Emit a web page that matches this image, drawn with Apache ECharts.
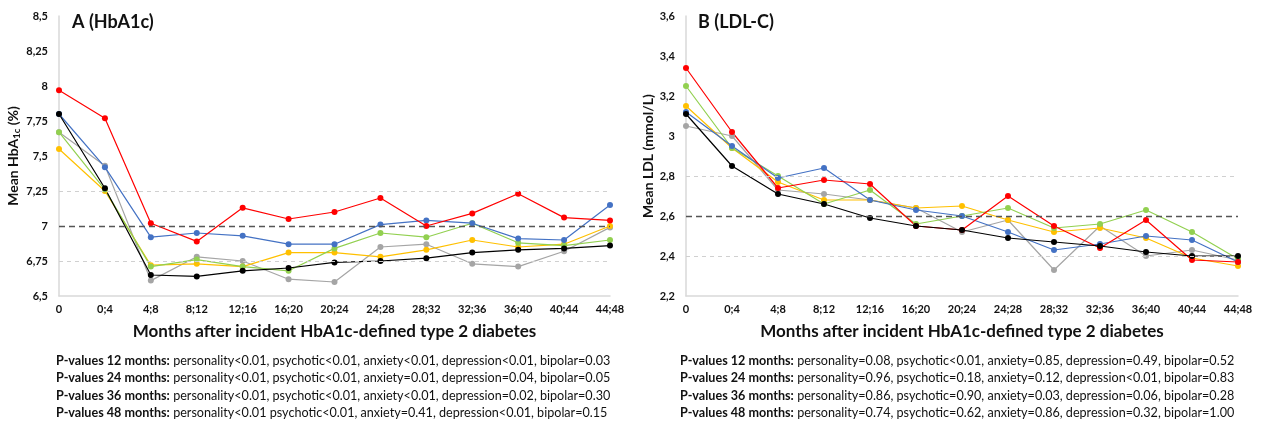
<!DOCTYPE html>
<html>
<head>
<meta charset="utf-8">
<script src="https://cdn.jsdelivr.net/npm/echarts@6/dist/echarts.min.js"></script>
<style>
  html, body { margin: 0; padding: 0; background: #fff; }
  #chart { width: 1262px; height: 424px; }
</style>
</head>
<body>
<div id="chart"></div>
<script>
// categories (months after incident diabetes)
const months = ['0', '0;4', '4;8', '8;12', '12;16', '16;20', '20;24', '24;28', '28;32', '32;36', '36;40', '40;44', '44;48'];

// A: mean HbA1c (%)
const redA    = [7.97, 7.77, 7.02, 6.89, 7.13, 7.05, 7.10, 7.20, 7.00, 7.09, 7.23, 7.06, 7.04];
const blueA   = [7.80, 7.42, 6.92, 6.95, 6.93, 6.87, 6.87, 7.01, 7.04, 7.02, 6.91, 6.90, 7.15];
const greenA  = [7.67, 7.26, 6.71, 6.76, 6.71, 6.68, 6.84, 6.95, 6.92, 7.02, 6.88, 6.86, 6.90];
const grayA   = [7.67, 7.43, 6.61, 6.78, 6.75, 6.62, 6.60, 6.85, 6.87, 6.73, 6.71, 6.82, 6.99];
const yellowA = [7.55, 7.25, 6.72, 6.73, 6.71, 6.81, 6.81, 6.78, 6.83, 6.90, 6.85, 6.87, 7.00];
const blackA  = [7.80, 7.27, 6.65, 6.64, 6.68, 6.70, 6.74, 6.75, 6.77, 6.81, 6.83, 6.84, 6.86];

// B: mean LDL (mmol/L)
const redB    = [3.34, 3.02, 2.74, 2.78, 2.76, 2.55, 2.53, 2.70, 2.55, 2.44, 2.58, 2.38, 2.37];
const blueB   = [3.12, 2.95, 2.79, 2.84, 2.68, 2.63, 2.60, 2.52, 2.43, 2.46, 2.50, 2.48, 2.37];
const greenB  = [3.25, 2.94, 2.80, 2.66, 2.73, 2.56, 2.60, 2.64, 2.54, 2.56, 2.63, 2.52, 2.385];
const grayB   = [3.05, 3.00, 2.73, 2.71, 2.68, 2.64, 2.52, 2.58, 2.33, 2.55, 2.40, 2.43, 2.38];
const yellowB = [3.15, 2.94, 2.77, 2.68, 2.68, 2.64, 2.65, 2.58, 2.52, 2.54, 2.49, 2.39, 2.35];
const blackB  = [3.11, 2.85, 2.71, 2.66, 2.59, 2.55, 2.53, 2.49, 2.47, 2.45, 2.42, 2.40, 2.40];

// reference lines
const refA = [6.75, 7, 7.25];
const refB = [2.4, 2.6, 2.8];

// p-value notes
const pLabels = ['P-values 12 months:', 'P-values 24 months:', 'P-values 36 months:', 'P-values 48 months:'];
const pTextA = [
    'personality<0.01, psychotic<0.01, anxiety<0.01, depression<0.01, bipolar=0.03',
    'personality<0.01, psychotic<0.01, anxiety=0.01, depression=0.04, bipolar=0.05',
    'personality<0.01, psychotic<0.01, anxiety<0.01, depression=0.02, bipolar=0.30',
    'personality<0.01 psychotic<0.01, anxiety=0.41, depression<0.01, bipolar=0.15'
];
const pTextB = [
    'personality=0.08, psychotic<0.01, anxiety=0.85, depression=0.49, bipolar=0.52',
    'personality=0.96, psychotic=0.18, anxiety=0.12, depression<0.01, bipolar=0.83',
    'personality=0.86, psychotic=0.90, anxiety=0.03, depression=0.06, bipolar=0.28',
    'personality=0.74, psychotic=0.62, anxiety=0.86, depression=0.32, bipolar=1.00'
];

const FONT = 'Lato, "Open Sans", sans-serif';
const chart = echarts.init(document.getElementById('chart'));

function commaFmt(v) {
    return String(Math.round(v * 100) / 100).replace('.', ',');
}

function makeX(idx) {
    return {
        type: 'category', gridIndex: idx, data: months, boundaryGap: false,
        axisLine: { lineStyle: { color: '#d9d9d9', width: 1.5 } },
        axisTick: { show: false },
        axisLabel: { color: '#111', fontFamily: FONT, fontWeight: 'bold', fontSize: 11, margin: 8, interval: 0 },
        name: 'Months after incident HbA1c-defined type 2 diabetes',
        nameLocation: 'middle', nameGap: 27,
        nameTextStyle: { color: '#111', fontFamily: FONT, fontWeight: 'bold', fontSize: 17 }
    };
}

function makeY(idx, min, max, step, name, rich, gap) {
    return {
        type: 'value', gridIndex: idx, min: min, max: max, interval: step,
        axisLine: { show: true, lineStyle: { color: '#d9d9d9', width: 1.5 } },
        axisTick: { show: false },
        splitLine: { show: false },
        axisLabel: { color: '#111', fontFamily: FONT, fontWeight: 'bold', fontSize: 11, margin: 11, formatter: commaFmt },
        name: name, nameLocation: 'middle', nameRotate: 90, nameGap: gap,
        nameTextStyle: { color: '#111', fontFamily: FONT, fontWeight: 'bold', fontSize: 14, rich: rich }
    };
}

function refLines(vals) {
    return {
        silent: true, symbol: 'none', label: { show: false },
        data: vals.map((v, i) => ({
            yAxis: v,
            lineStyle: i === 1 ? { color: '#555', type: [6, 4], width: 1.3 }
                               : { color: '#d0d0d0', type: [4, 4], width: 1 }
        }))
    };
}

function line(data, color, idx, mark) {
    const s = {
        type: 'line', data: data, xAxisIndex: idx, yAxisIndex: idx,
        symbol: 'circle', symbolSize: 6,
        itemStyle: { color: color },
        lineStyle: { color: color, width: 1.2 },
        animation: false
    };
    if (mark) s.markLine = mark;
    return s;
}

const graphics = [
    { type: 'text', left: 72, top: 13, style: { text: 'A (HbA1c)', font: 'bold 18px ' + FONT, fill: '#111' } },
    { type: 'text', left: 698, top: 13, style: { text: 'B (LDL-C)', font: 'bold 18px ' + FONT, fill: '#111' } }
];
const richP = {
    b: { fontFamily: FONT, fontWeight: 'bold', fontSize: 12.6, fill: '#111' },
    n: { fontFamily: FONT, fontSize: 12.6, fill: '#111' }
};
pLabels.forEach((lab, i) => {
    graphics.push({ type: 'text', left: 56, top: 354 + i * 17.5,
        style: { text: '{b|' + lab + '} {n|' + pTextA[i] + '}', rich: richP, fill: '#111' } });
    graphics.push({ type: 'text', left: 680, top: 354 + i * 17.5,
        style: { text: '{b|' + lab + '} {n|' + pTextB[i] + '}', rich: richP, fill: '#111' } });
});

const option = {
    backgroundColor: '#fff',
    textStyle: { fontFamily: FONT },
    grid: [
        { left: 59, top: 16, width: 551, height: 280 },
        { left: 686, top: 16, width: 552, height: 280 }
    ],
    xAxis: [makeX(0), makeX(1)],
    yAxis: [
        makeY(0, 6.5, 8.5, 0.25, '{m|Mean HbA}{s|1c}{m| (%)}',
              { m: { fontFamily: FONT, fontWeight: 'bold', fontSize: 14, color: '#111' },
                s: { fontFamily: FONT, fontWeight: 'bold', fontSize: 9.5, color: '#111', padding: [7, 0, 0, 0] } }, 31),
        makeY(1, 2.2, 3.6, 0.2, 'Mean LDL (mmol/L)', null, 30)
    ],
    graphic: graphics,
    series: [
        line(grayA, '#a5a5a5', 0, refLines(refA)),
        line(yellowA, '#ffc000', 0),
        line(greenA, '#92d050', 0),
        line(blueA, '#4472c4', 0),
        line(redA, '#ff0000', 0),
        line(blackA, '#000000', 0),
        line(grayB, '#a5a5a5', 1, refLines(refB)),
        line(yellowB, '#ffc000', 1),
        line(greenB, '#92d050', 1),
        line(blueB, '#4472c4', 1),
        line(redB, '#ff0000', 1),
        line(blackB, '#000000', 1)
    ]
};
chart.setOption(option);
</script>
</body>
</html>
